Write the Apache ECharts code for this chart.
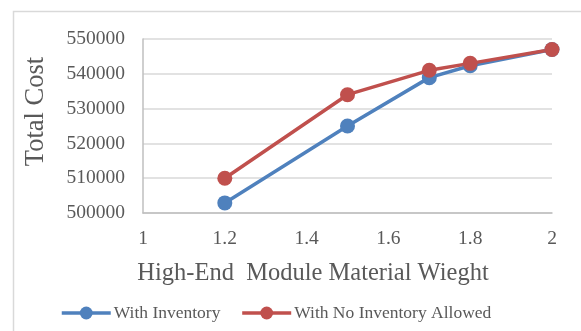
<!DOCTYPE html>
<html>
<head>
<meta charset="utf-8">
<script src="https://cdn.jsdelivr.net/npm/echarts@6/dist/echarts.min.js"></script>
<style>
  html, body { margin: 0; padding: 0; background: #ffffff; }
  #chart { width: 581px; height: 331px; }
</style>
</head>
<body>
<div id="chart"></div>
<script>
// Module material weight on the x axis
const weights = [1.2, 1.5, 1.7, 1.8, 2.0];
// Total cost for each weight
const withInventory = [502900, 525000, 538900, 542300, 547000];
const noInventoryAllowed = [510000, 534000, 541000, 543000, 547000];

const seriesNames = ['With Inventory', 'With No Inventory Allowed'];
const xTitle = 'High-End  Module Material Wieght';
const yTitle = 'Total Cost';

const FONT = '"Liberation Serif", serif';
const TEXT = '#595959';

const chart = echarts.init(document.getElementById('chart'), null, { renderer: 'canvas' });

function pairs(xs, ys) {
  return xs.map((x, i) => [x, ys[i]]);
}

chart.setOption({
  animation: false,
  backgroundColor: '#ffffff',
  grid: { left: 143, right: 29, top: 39, bottom: 118, containLabel: false },
  xAxis: {
    type: 'value',
    min: 1, max: 2, interval: 0.2,
    axisLine: { show: true, lineStyle: { color: '#bfbfbf', width: 1.5 } },
    axisTick: { show: false },
    splitLine: { show: false },
    axisLabel: { color: TEXT, fontFamily: FONT, fontSize: 19.5, margin: 16 }
  },
  yAxis: {
    type: 'value',
    min: 500000, max: 550000, interval: 10000,
    axisLine: { show: true, lineStyle: { color: '#bfbfbf', width: 1.5 } },
    axisTick: { show: false },
    splitLine: { show: true, lineStyle: { color: '#d9d9d9', width: 1.5 } },
    axisLabel: { color: TEXT, fontFamily: FONT, fontSize: 19.5, margin: 18, formatter: v => String(v) }
  },
  legend: {
    left: 60, top: 304, padding: 0,
    itemWidth: 49, itemHeight: 16, itemGap: 20,
    lineStyle: { width: 3.5 },
    textStyle: { color: TEXT, fontFamily: FONT, fontSize: 17.5, padding: [0, 0, 0, -2] },
    data: seriesNames
  },
  series: [
    {
      name: seriesNames[0], type: 'line',
      data: pairs(weights, withInventory),
      symbol: 'circle', symbolSize: 15,
      lineStyle: { color: '#4f81bd', width: 3.5 },
      itemStyle: { color: '#4f81bd' }
    },
    {
      name: seriesNames[1], type: 'line',
      data: pairs(weights, noInventoryAllowed),
      symbol: 'circle', symbolSize: 15,
      lineStyle: { color: '#c0504d', width: 3.5 },
      itemStyle: { color: '#c0504d' }
    }
  ],
  graphic: [
    {
      type: 'polyline', silent: true,
      shape: { points: [[13.5, 340], [13.5, 11.5], [590, 11.5]] },
      style: { stroke: '#d9d9d9', lineWidth: 1.5, fill: null }
    },
    {
      type: 'text', silent: true,
      x: 36, y: 111.5, rotation: Math.PI / 2,
      style: { text: yTitle, fill: TEXT, font: '26.5px ' + FONT, align: 'center', verticalAlign: 'middle' }
    },
    {
      type: 'text', silent: true,
      x: 313, y: 274,
      style: { text: xTitle, fill: TEXT, font: '24.5px ' + FONT, align: 'center', verticalAlign: 'middle' }
    }
  ]
});
</script>
</body>
</html>
